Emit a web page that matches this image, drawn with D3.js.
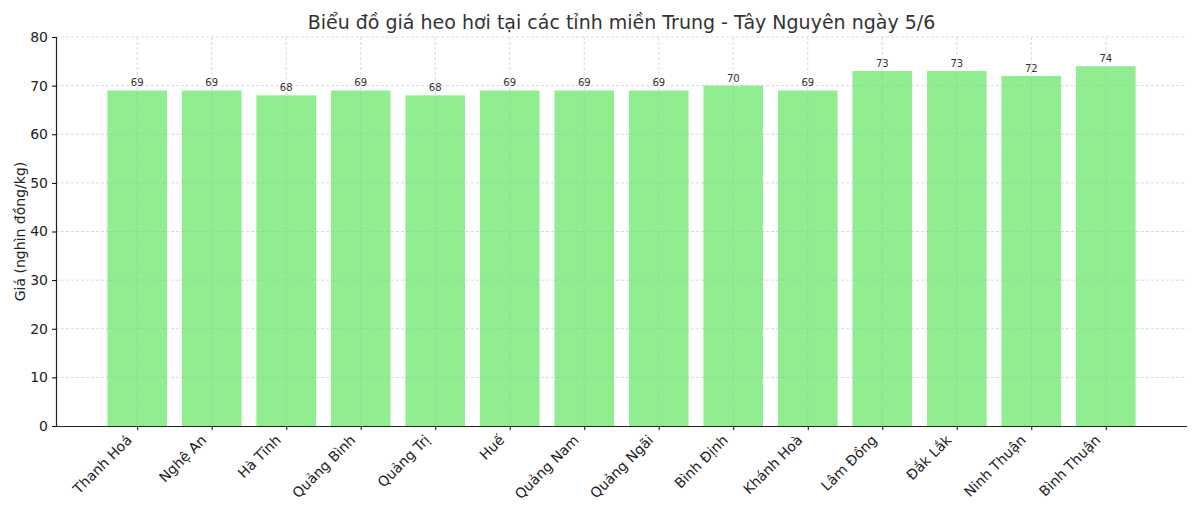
<!DOCTYPE html>
<html><head><meta charset="utf-8">
<script src="https://cdn.jsdelivr.net/npm/d3@7"></script>
<style>body{margin:0;background:#fff}svg{display:block;font-family:"DejaVu Sans",sans-serif}</style>
</head><body>
<svg id="c" width="1200" height="514"></svg>
<script>
const categories = ["Thanh Hoá","Nghệ An","Hà Tĩnh","Quảng Bình","Quảng Trị","Huế","Quảng Nam","Quảng Ngãi","Bình Định","Khánh Hoà","Lâm Đồng","Đắk Lắk","Ninh Thuận","Bình Thuận"];
const prices = [69,69,68,69,68,69,69,69,70,69,73,73,72,74];
const yTicks = [0,10,20,30,40,50,60,70,80];
const titleText = "Biểu đồ giá heo hơi tại các tỉnh miền Trung - Tây Nguyên ngày 5/6";
const yLabel = "Giá (nghìn đồng/kg)";

const svg = d3.select("#c");
const L = 56, R = 1187, T = 37, B = 426;
const n = categories.length;
const x = d3.scaleLinear().domain([-0.4 - 0.69, n - 1 + 0.4 + 0.69]).range([L, R]);
const bw = x(0.8) - x(0);
const y = d3.scaleLinear().domain([0, 80]).range([B, T]);

// bars
svg.append("g").selectAll("rect").data(prices).join("rect")
  .attr("x", (d,i) => x(i) - bw/2).attr("width", bw)
  .attr("y", d => y(d)).attr("height", d => y(0) - y(d))
  .attr("fill", "#90ee90");

// grid
const grid = svg.append("g").attr("stroke", "#b0b0b0").attr("stroke-opacity", 0.6)
  .attr("stroke-dasharray", "3,2").attr("stroke-width", 0.8);
grid.selectAll("line.h").data(yTicks.slice(1)).join("line")
  .attr("x1", L).attr("x2", R).attr("y1", d => y(d)).attr("y2", d => y(d));
grid.selectAll("line.v").data(categories).join("line")
  .attr("x1", (d,i) => x(i)).attr("x2", (d,i) => x(i)).attr("y1", T).attr("y2", B);

// value labels
svg.append("g").selectAll("text").data(prices).join("text")
  .attr("x", (d,i) => x(i)).attr("y", d => y(d) - 4)
  .attr("text-anchor", "middle").attr("font-size", 10).attr("fill", "#333")
  .text(d => d);

// y axis
const yAxis = svg.append("g").attr("transform", `translate(${L},0)`)
  .call(d3.axisLeft(y).tickValues(yTicks).tickSize(4).tickPadding(4));
yAxis.select(".domain").attr("stroke", "#222").attr("stroke-width", 1.2);
yAxis.selectAll("text").attr("font-size", 14).attr("fill", "#222").attr("font-family", "DejaVu Sans");

// x axis
const xAxis = svg.append("g").attr("transform", `translate(0,${B})`)
  .call(d3.axisBottom(x).tickValues(d3.range(n)).tickFormat(i => categories[i]).tickSize(4).tickSizeOuter(0));
xAxis.select(".domain").attr("stroke", "#222").attr("stroke-width", 1.2).attr("d", `M${L},0.5H${R}`);
xAxis.selectAll("text").attr("font-size", 14).attr("fill", "#222").attr("font-family", "DejaVu Sans")
  .attr("text-anchor", "end").attr("dy", null).attr("y", 0)
  .attr("transform", "translate(-5,15) rotate(-45)");

// title
svg.append("text").attr("x", (L + R) / 2).attr("y", 29).attr("text-anchor", "middle")
  .attr("font-size", 19).attr("fill", "#333").text(titleText);
svg.append("text").attr("transform", `translate(25,${(T + B) / 2}) rotate(-90)`)
  .attr("text-anchor", "middle").attr("font-size", 14).attr("fill", "#222").text(yLabel);
</script>
</body></html>
